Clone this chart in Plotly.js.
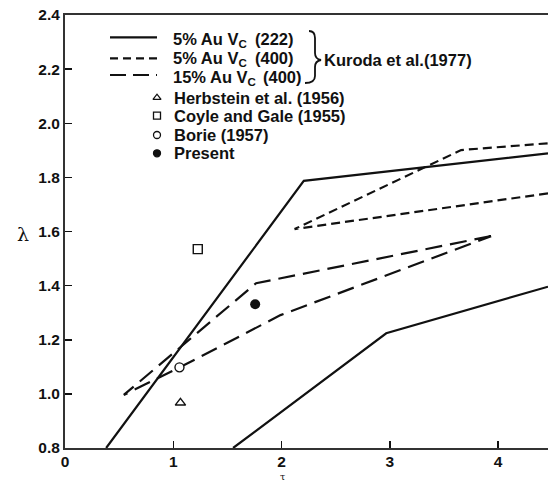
<!DOCTYPE html>
<html><head><meta charset="utf-8">
<script src="https://cdn.plot.ly/plotly-3.0.1.min.js"></script>
<style>html,body{margin:0;padding:0;background:#fff}</style>
</head><body><div id="chart" style="width:548px;height:481px"></div>
<script>
// ---- data (tau, lambda) ----
const solidUpperX = [0.38, 2.205, 4.46];
const solidUpperY = [0.80, 1.787, 1.889];
const solidLowerX = [1.552, 2.966, 4.46];
const solidLowerY = [0.80, 1.224, 1.396];
const dash5X = [4.46, 2.12, 3.658, 4.46];
const dash5Y = [1.741, 1.609, 1.901, 1.926];
const dash15X = [3.935, 1.765, 0.543, 1.06, 1.99, 3.935];
const dash15Y = [1.583, 1.409, 0.996, 1.098, 1.291, 1.583];
const herbX = [1.066], herbY = [0.967];
const coyleX = [1.226], coyleY = [1.535];
const borieX = [1.057], borieY = [1.098];
const presentX = [1.756], presentY = [1.331];
const xTickVals = [0, 1, 2, 3, 4];
const yTickVals = [0.8, 1.0, 1.2, 1.4, 1.6, 1.8, 2.0, 2.2, 2.4];
const lineLabels = ['5% Au V<sub>C</sub>', '5% Au V<sub>C</sub>', '15% Au V<sub>C</sub>'];
const lineLabelNums = ['(222)', '(400)', '(400)'];
const groupLabel = 'Kuroda et al.(1977)';
const markerLabels = ['Herbstein et al. (1956)', 'Coyle and Gale (1955)', 'Borie (1957)', 'Present'];
const xTitle = 'τ';
const yTitle = 'λ';

const INK = '#111';
const FONT = 'Liberation Sans, Arial, Helvetica, sans-serif';

const traces = [
  {x: solidUpperX, y: solidUpperY, mode: 'lines', line: {color: INK, width: 2.2}},
  {x: solidLowerX, y: solidLowerY, mode: 'lines', line: {color: INK, width: 2.2}},
  {x: dash5X, y: dash5Y, mode: 'lines', line: {color: INK, width: 2.2, dash: '9px,5px'}},
  {x: dash15X, y: dash15Y, mode: 'lines', line: {color: INK, width: 2.2, dash: '17px,8px'}},
  {x: herbX, y: herbY, mode: 'markers', marker: {symbol: 'triangle-up-open', size: 9, color: INK, line: {width: 1.4, color: INK}}},
  {x: coyleX, y: coyleY, mode: 'markers', marker: {symbol: 'square-open', size: 9, color: INK, line: {width: 1.4, color: INK}}},
  {x: borieX, y: borieY, mode: 'markers', marker: {symbol: 'circle', size: 9, color: '#fff', line: {width: 1.4, color: INK}}},
  {x: presentX, y: presentY, mode: 'markers', marker: {symbol: 'circle', size: 10, color: INK}},
  // legend key symbols (pixel-like overlay axes)
  {x: [157, 157, 157, 157], y: [97.7, 115.7, 135, 153.3], xaxis: 'x2', yaxis: 'y2', mode: 'markers',
   marker: {symbol: ['triangle-up-open', 'square-open', 'circle-open', 'circle'], size: 7, color: INK, line: {width: 1.3, color: INK}}}
];

const rowsY = [40, 59, 78];
const sampleY = [37.3, 58.3, 75];
const dashes = ['solid', '8px,5px', '16px,7px'];
const shapes = [];
const annotations = [];
for (let i = 0; i < 3; i++) {
  shapes.push({type: 'line', xref: 'x2', yref: 'y2', x0: 110, x1: 157, y0: sampleY[i], y1: sampleY[i],
               line: {color: INK, width: 2.2, dash: dashes[i]}});
  annotations.push({xref: 'x2', yref: 'y2', x: 171, y: rowsY[i], xanchor: 'left', yanchor: 'middle', showarrow: false,
                    text: '<b>' + lineLabels[i] + '</b>', font: {family: FONT, size: 16.5, color: INK}});
  annotations.push({xref: 'x2', yref: 'y2', x: i === 2 ? 261 : 253, y: rowsY[i] - 1, xanchor: 'left', yanchor: 'middle', showarrow: false,
                    text: '<b>' + lineLabelNums[i] + '</b>', font: {family: FONT, size: 16.5, color: INK}});
}
shapes.push({type: 'path', xref: 'x2', yref: 'y2',
  path: 'M 309 31 Q 315 31 315 38 L 315 53 Q 315 59 321 60 Q 315 61 315 67 L 315 76 Q 315 83 305 83',
  line: {color: INK, width: 1.8}});
annotations.push({xref: 'x2', yref: 'y2', x: 322, y: 60, xanchor: 'left', yanchor: 'middle', showarrow: false,
                  text: '<b>' + groupLabel + '</b>', font: {family: FONT, size: 16.5, color: INK}});
const mRows = [97.5, 116, 135, 153.3];
for (let i = 0; i < 4; i++) {
  annotations.push({xref: 'x2', yref: 'y2', x: 172, y: mRows[i], xanchor: 'left', yanchor: 'middle', showarrow: false,
                    text: '<b>' + markerLabels[i] + '</b>', font: {family: FONT, size: 16.5, color: INK}});
}
annotations.push({xref: 'paper', yref: 'paper', x: (23 - 65) / 483, y: (448 - 234) / 433, xanchor: 'center', yanchor: 'middle',
                  showarrow: false, text: yTitle, font: {family: 'DejaVu Serif, serif', size: 19, color: INK}});
annotations.push({xref: 'paper', yref: 'paper', x: (282 - 65) / 483, y: (448 - 476) / 433, xanchor: 'center', yanchor: 'middle',
                  borderpad: 0, showarrow: false, text: xTitle, font: {family: 'DejaVu Serif, serif', size: 9.5, color: INK}});

const tickFont = {family: FONT, size: 15.5, color: INK, weight: 'bold'};
const layout = {
  width: 548, height: 481, autosize: false,
  margin: {l: 65, r: 0, t: 15, b: 33, pad: 0},
  paper_bgcolor: '#fff', plot_bgcolor: '#fff',
  showlegend: false,
  xaxis: {range: [0, 4.46], tickvals: xTickVals, ticks: 'inside', ticklen: 7, tickwidth: 1.5, tickcolor: INK,
          showline: true, linecolor: '#333', linewidth: 2, mirror: true, showgrid: false, zeroline: false,
          ticklabelstandoff: -2, tickfont: tickFont, fixedrange: true},
  yaxis: {range: [0.8, 2.4], tickvals: yTickVals, tickformat: '.1f', ticks: 'inside', ticklen: 7, tickwidth: 1.5, tickcolor: INK,
          showline: true, linecolor: '#333', linewidth: 2, showgrid: false, zeroline: false,
          tickfont: tickFont, fixedrange: true},
  xaxis2: {overlaying: 'x', anchor: 'y2', range: [65, 548], visible: false, fixedrange: true},
  yaxis2: {overlaying: 'y', anchor: 'x2', range: [448, 15], visible: false, fixedrange: true},
  shapes: shapes,
  annotations: annotations
};
Plotly.newPlot('chart', traces, layout, {displayModeBar: false, staticPlot: true});
</script>
</body></html>
